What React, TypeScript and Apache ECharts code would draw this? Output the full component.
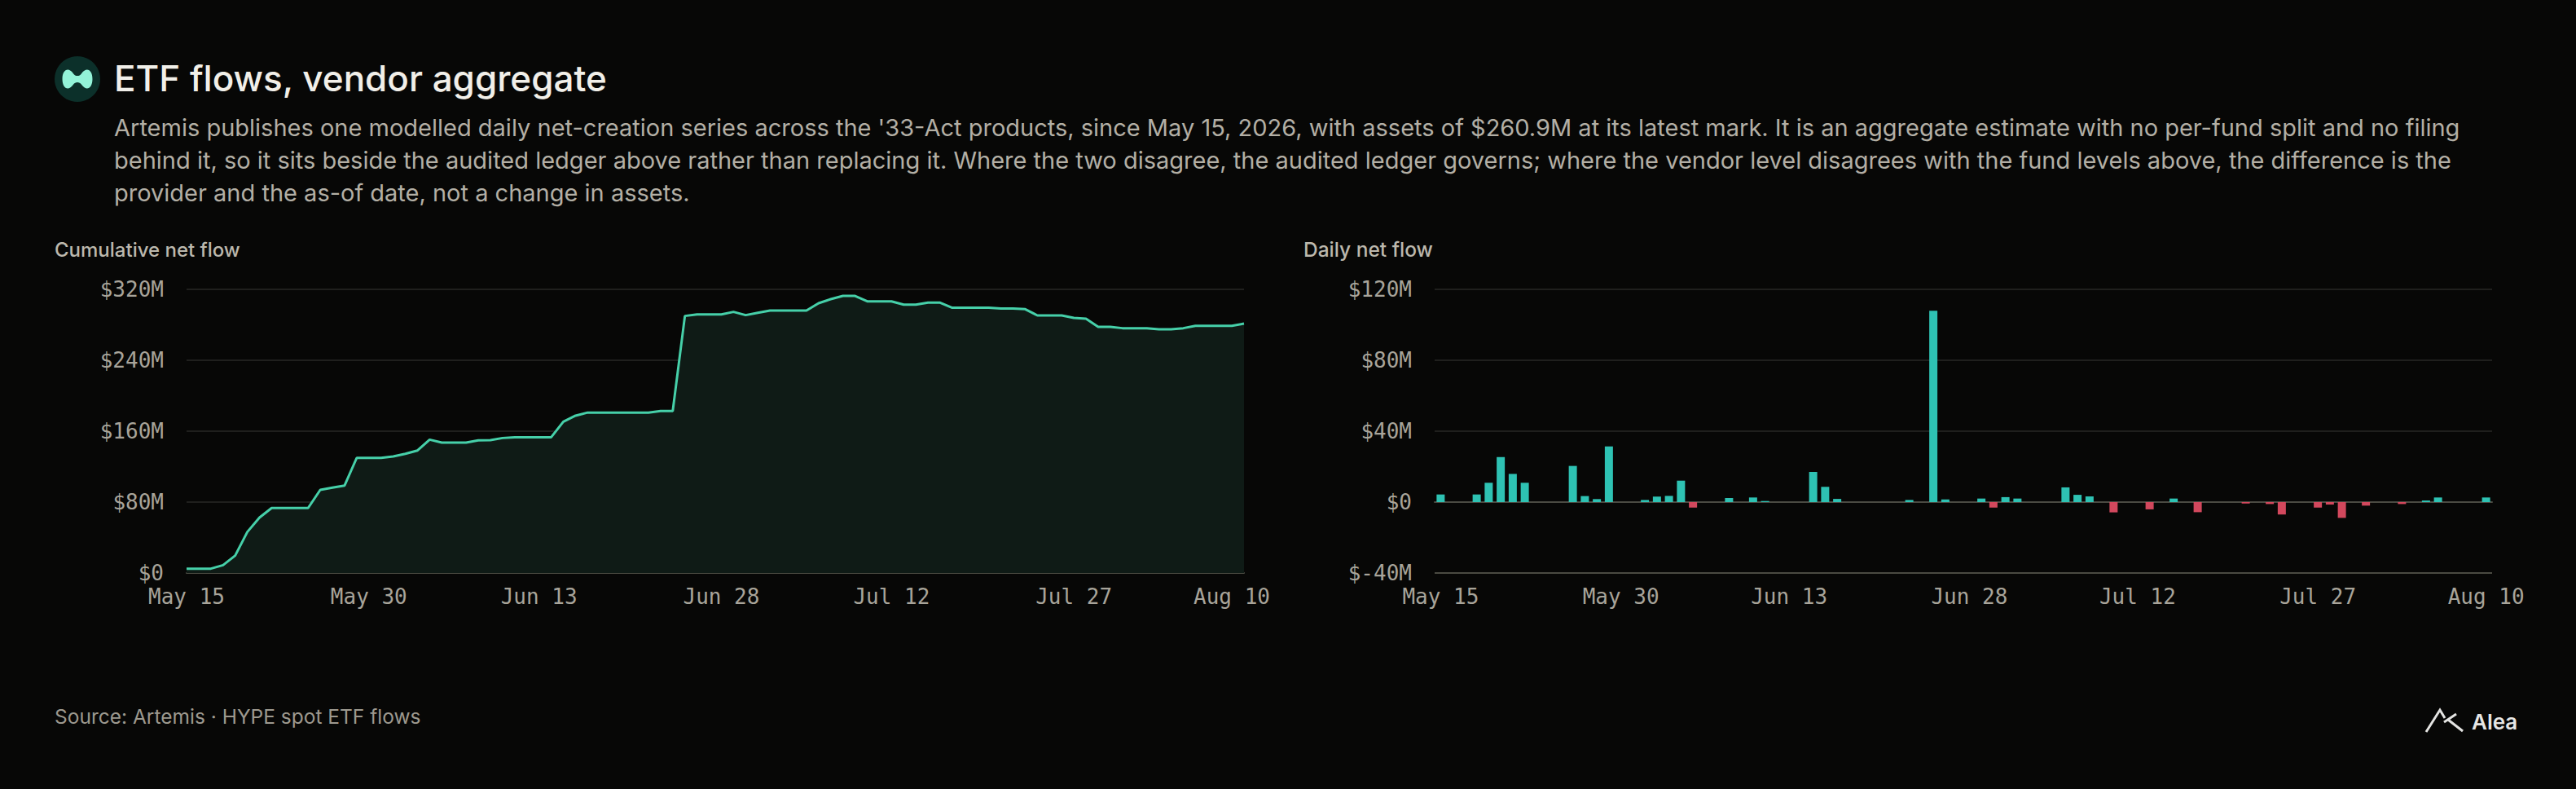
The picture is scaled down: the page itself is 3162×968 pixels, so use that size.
import React, { useEffect, useRef } from 'react';
import * as echarts from 'echarts';

// daily net creation, $M
const dailyFlow = [
  4.3, 0, 0, 4.3, 10.9, 25.4, 15.9, 10.9, 0, 0,
  0, 20.4, 3.4, 1.7, 31.4, 0, 0, 1.2, 3.1, 3.5,
  12.1, -3.1, 0, 0, 2.3, 0, 2.6, 0.6, 0, 0,
  0, 17.0, 8.6, 1.8, 0, 0, 0, 0, 0, 1.2,
  0, 107.9, 1.5, 0, 0, 2.0, -3.1, 2.8, 2.0, 0,
  0, 0, 8.3, 4.1, 3.2, 0, -5.8, 0, 0, -4.1,
  0, 2.0, 0, -5.7, 0, 0, 0, -0.8, 0, -1.1,
  -7.0, 0, 0, -3.1, -1.4, -8.9, 0, -2.0, 0, 0,
  -1.1, 0, 0.9, 2.6, 0, 0, 0, 2.6,
];

// cumulative net flow, $M
const cumulativeFlow = [
  4.9, 4.9, 4.9, 8.9, 19.6, 46.3, 62.5, 73.3, 73.3, 73.3,
  73.3, 93.8, 96.3, 98.7, 129.9, 129.9, 129.9, 131.5, 134.5, 138.2,
  150.5, 147.1, 147.1, 147.1, 149.6, 149.9, 152.3, 153.2, 153.2, 153.2,
  153.2, 170.7, 177.5, 181.0, 181.0, 181.0, 181.0, 181.0, 181.0, 182.7,
  182.7, 290.0, 291.8, 291.8, 291.8, 294.6, 290.9, 293.6, 296.1, 296.1,
  296.1, 296.1, 304.4, 309.0, 312.6, 312.6, 306.5, 306.5, 306.5, 302.8,
  302.8, 305.0, 305.0, 299.2, 299.2, 299.2, 299.2, 298.5, 298.5, 297.6,
  290.6, 290.6, 290.6, 287.8, 286.9, 277.7, 277.7, 276.2, 276.2, 276.2,
  274.9, 274.9, 276.2, 278.9, 278.9, 278.9, 278.9, 281.4,
];

const labelIndices = [0, 15, 29, 44, 58, 73, 87];
const cumTicks = { min: 0, max: 320, interval: 80 };
const dailyTicks = { min: -40, max: 120, interval: 40 };

const MONTHS = ['Jan', 'Feb', 'Mar', 'Apr', 'May', 'Jun', 'Jul', 'Aug', 'Sep', 'Oct', 'Nov', 'Dec'];
const dates: string[] = dailyFlow.map((_, i) => {
  const d = new Date(Date.UTC(2026, 4, 15) + i * 86400000);
  return `${MONTHS[d.getUTCMonth()]} ${d.getUTCDate()}`;
});

const subtitle = [
  "Artemis publishes one modelled daily net-creation series across the '33-Act products, since May 15, 2026, with assets of $260.9M at its latest mark. It is an aggregate estimate with no per-fund split and no filing",
  'behind it, so it sits beside the audited ledger above rather than replacing it. Where the two disagree, the audited ledger governs; where the vendor level disagrees with the fund levels above, the difference is the',
  'provider and the as-of date, not a change in assets.',
];

const BG = '#070706';
const GRID = '#1f1f1d';
const AXIS = '#4a4a42';
const LABEL = '#a8a49a';
const MONO = '"DejaVu Sans Mono", monospace';
const SANS = 'Inter, "Noto Sans", sans-serif';

echarts.graphic.registerShape(
  'hlLogo',
  echarts.graphic.extendPath(
    'M6 50 C6 22 24 14 38 34 C44 43 56 43 62 34 C76 14 94 22 94 50 C94 78 76 86 62 66 C56 57 44 57 38 66 C24 86 6 78 6 50 Z',
    {}
  )
);

const fmtMoney = (v: number) => (v === 0 ? '$0' : `$${v}M`);

const App: React.FC = () => {
  const chartRef = useRef<HTMLDivElement>(null);

  useEffect(() => {
    document.body.style.margin = '0';
    document.body.style.background = BG;
    if (!chartRef.current) return;
    const chart = echarts.init(chartRef.current, undefined, { renderer: 'svg' });

    const xLabel = (extra: object = {}) => ({
      interval: (i: number) => labelIndices.includes(i),
      color: LABEL,
      fontFamily: MONO,
      fontSize: 26,
      margin: 16,
      ...extra,
    });
    const yLabel = {
      color: LABEL,
      fontFamily: MONO,
      fontSize: 26,
      margin: 28,
      formatter: fmtMoney,
    };

    const option = {
      animation: false,
      backgroundColor: BG,
      grid: [
        { left: 229, top: 355, width: 1298, height: 348 },
        { left: 1761, top: 355, width: 1298, height: 348 },
      ],
      xAxis: [
        {
          type: 'category',
          gridIndex: 0,
          data: dates,
          boundaryGap: false,
          axisTick: { show: false },
          axisLine: { lineStyle: { color: AXIS, width: 2 } },
          axisLabel: xLabel({
            formatter: (v: string, i: number) => (i === 87 ? `{e|${v}}` : v),
            rich: { e: { padding: [0, 30, 0, 0] } },
          }),
        },
        {
          type: 'category',
          gridIndex: 1,
          data: dates,
          boundaryGap: true,
          axisTick: { show: false },
          axisLine: { onZero: true, lineStyle: { color: AXIS, width: 2 } },
          axisLabel: xLabel(),
        },
      ],
      yAxis: [
        {
          type: 'value',
          gridIndex: 0,
          ...cumTicks,
          axisLine: { show: false },
          axisTick: { show: false },
          axisLabel: yLabel,
          splitLine: { lineStyle: { color: GRID, width: 2 } },
        },
        {
          type: 'value',
          gridIndex: 1,
          ...dailyTicks,
          axisLine: { show: false },
          axisTick: { show: false },
          axisLabel: yLabel,
          splitLine: { lineStyle: { color: [AXIS, GRID, GRID, GRID, GRID], width: 2 } },
        },
      ],
      series: [
        {
          type: 'line',
          xAxisIndex: 0,
          yAxisIndex: 0,
          data: cumulativeFlow,
          symbol: 'none',
          lineStyle: { color: '#46d0a9', width: 3 },
          areaStyle: { color: '#0f1b16', opacity: 1 },
          z: 3,
        },
        {
          type: 'bar',
          xAxisIndex: 1,
          yAxisIndex: 1,
          data: dailyFlow,
          barWidth: 10,
          itemStyle: {
            color: (p: any) => (p.value < 0 ? '#d2485d' : '#2ec2b3'),
          },
          z: 3,
        },
      ],
      graphic: [
        { type: 'circle', shape: { cx: 95, cy: 97, r: 28 }, style: { fill: '#0c302a' } },
        { type: 'hlLogo', x: 74, y: 76, scaleX: 0.42, scaleY: 0.42, style: { fill: '#93f3d8' } },
        {
          type: 'text',
          x: 140,
          y: 96,
          style: {
            text: 'ETF flows, vendor aggregate',
            fill: '#f1efe9',
            fontFamily: SANS,
            fontSize: 44,
            fontWeight: 500,
            verticalAlign: 'middle',
          },
        },
        ...subtitle.map((line, k) => ({
          type: 'text',
          x: 140,
          y: 156 + k * 40,
          style: {
            text: line,
            fill: '#b3afa5',
            fontFamily: SANS,
            fontSize: 29,
            verticalAlign: 'middle',
          },
        })),
        {
          type: 'text',
          x: 67,
          y: 306,
          style: {
            text: 'Cumulative net flow',
            fill: '#bcb8ad',
            fontFamily: SANS,
            fontSize: 24,
            fontWeight: 500,
            verticalAlign: 'middle',
          },
        },
        {
          type: 'text',
          x: 1600,
          y: 306,
          style: {
            text: 'Daily net flow',
            fill: '#bcb8ad',
            fontFamily: SANS,
            fontSize: 24.5,
            fontWeight: 500,
            verticalAlign: 'middle',
          },
        },
        {
          type: 'text',
          x: 67,
          y: 879,
          style: {
            text: 'Source: Artemis · HYPE spot ETF flows',
            fill: '#9d998f',
            fontFamily: SANS,
            fontSize: 24.5,
            verticalAlign: 'middle',
          },
        },
        // Alea mark
        {
          type: 'polyline',
          shape: { points: [[2978, 898], [2995, 871], [3001, 881]] },
          style: { stroke: '#e4e4e2', lineWidth: 3, fill: null },
        },
        {
          type: 'polyline',
          shape: { points: [[3000, 886], [3015, 876]] },
          style: { stroke: '#e4e4e2', lineWidth: 3, fill: null },
        },
        {
          type: 'polyline',
          shape: { points: [[3005, 883], [3023, 897]] },
          style: { stroke: '#e4e4e2', lineWidth: 3, fill: null },
        },
        {
          type: 'text',
          x: 3034,
          y: 885,
          style: {
            text: 'Alea',
            fill: '#e6e6e4',
            fontFamily: SANS,
            fontSize: 26,
            fontWeight: 600,
            verticalAlign: 'middle',
          },
        },
      ],
    };

    chart.setOption(option as any);

    return () => {
      chart.dispose();
    };
  }, []);

  return <div ref={chartRef} style={{ width: '3162px', height: '968px' }}></div>;
};

export default App;
